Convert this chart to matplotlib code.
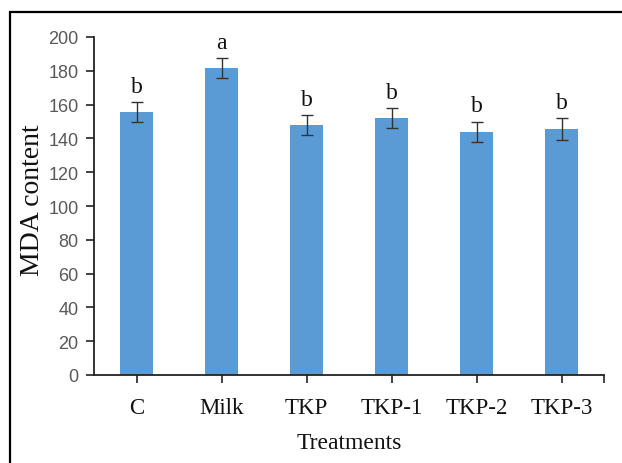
import matplotlib
matplotlib.use("Agg")
import matplotlib.pyplot as plt
from matplotlib.patches import Rectangle

# MDA content per treatment, mean +/- error, with significance letters
treatments = ["C", "Milk", "TKP", "TKP-1", "TKP-2", "TKP-3"]
mda_mean = [155.5, 181.5, 148.0, 152.0, 144.0, 145.5]
mda_err = [6.0, 6.0, 6.0, 6.0, 6.0, 6.5]
letters = ["b", "a", "b", "b", "b", "b"]

bar_color = "#5B9BD5"
serif = ["Liberation Serif", "DejaVu Serif"]
narrow = ["Liberation Sans Narrow", "Liberation Sans", "DejaVu Sans"]

fig = plt.figure(figsize=(6.22, 4.64), dpi=100)
ax = fig.add_axes([94 / 622, 88 / 464, 510 / 622, 338 / 464])

x = list(range(len(treatments)))
ax.bar(x, mda_mean, width=0.39, color=bar_color, zorder=2)
ax.errorbar(x, mda_mean, yerr=mda_err, fmt="none", ecolor="#333333",
            elinewidth=1.0, capsize=4, capthick=1.0, zorder=3)

for xi, m, e, lab in zip(x, mda_mean, mda_err, letters):
    ax.annotate(lab, (xi, m + e), xytext=(0, 5), textcoords="offset pixels",
                ha="center", va="bottom", fontsize=17, family=serif,
                color="#111111")

ax.set_xlim(-0.5, 5.5)
ax.set_ylim(0, 200)
ax.set_yticks(range(0, 201, 20))
ax.set_xticks(x)
ax.set_xticklabels(treatments, family=serif, fontsize=16.5, color="#111111")
ax.set_xticks([5.5], minor=True)
for lab in ax.get_yticklabels():
    lab.set_family(narrow)
    lab.set_fontsize(13)
    lab.set_color("#595959")

ax.tick_params(axis="y", which="both", direction="out", length=6, width=1.2,
               pad=5, color="#222222")
ax.tick_params(axis="x", which="both", direction="out", length=6, width=1.2,
               pad=10, color="#222222")

for side in ["top", "right"]:
    ax.spines[side].set_visible(False)
for side in ["left", "bottom"]:
    ax.spines[side].set_linewidth(1.3)
    ax.spines[side].set_color("#222222")

ax.set_xlabel("Treatments", family=serif, fontsize=17, color="#111111")
ax.xaxis.set_label_coords(0.5, -0.168)
ax.set_ylabel("MDA content", family=serif, fontsize=20, color="#111111")
ax.yaxis.set_label_coords(-0.097, 0.52)

# frame around the chart area
fig.patches.append(Rectangle((10 / 622, -0.1), 1.0, (464 - 13) / 464 + 0.1,
                             transform=fig.transFigure, fill=False,
                             edgecolor="black", linewidth=1.6))

fig.savefig("out.png", dpi=100)
